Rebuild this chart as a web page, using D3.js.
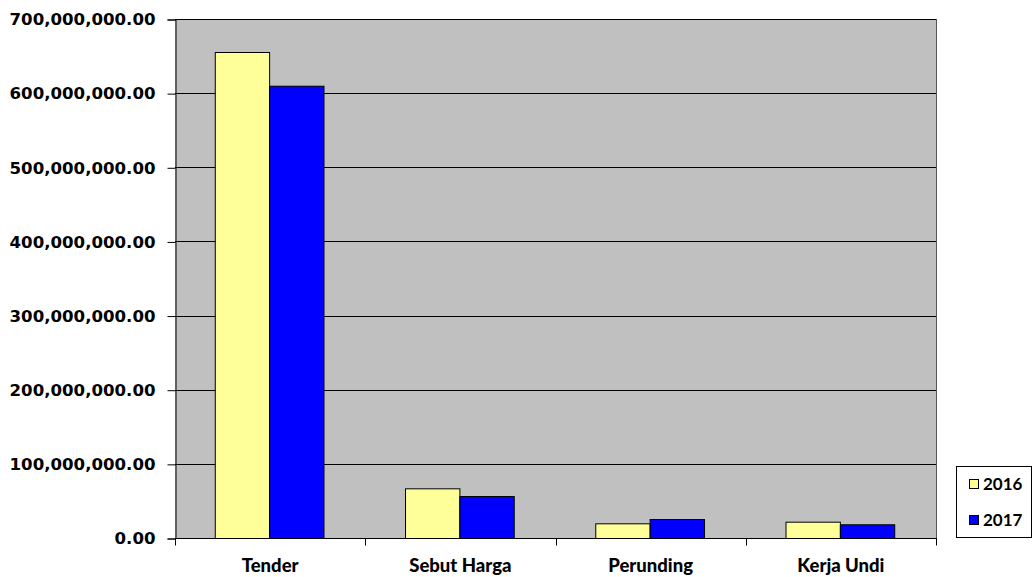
<!DOCTYPE html>
<html>
<head>
<meta charset="utf-8">
<script src="https://cdn.jsdelivr.net/npm/d3@7"></script>
<style>
  html, body { margin: 0; padding: 0; background: #ffffff; }
  svg { display: block; }
</style>
</head>
<body>
<svg id="chart" width="1033" height="577"></svg>
<script>
// Procurement value by method, 2016 vs 2017
const categories = ["Tender", "Sebut Harga", "Perunding", "Kerja Undi"];
const years = ["2016", "2017"];
const values2016 = [655500000, 67000000, 19800000, 22000000];
const values2017 = [610000000, 56600000, 25600000, 18500000];
const yTicks = [0, 100000000, 200000000, 300000000, 400000000, 500000000, 600000000, 700000000];
const seriesColors = ["#ffff99", "#0000ff"];

const svg = d3.select("#chart");
const plot = { left: 175, right: 936, top: 19, bottom: 538 };

const x0 = d3.scaleBand().domain(categories).range([plot.left, plot.right]).padding(0);
// Two bars per group, gap of 1.5 bar widths between groups
const barW = x0.bandwidth() / 3.5;
const x1 = d3.scaleBand().domain(years).range([0, barW * 2]).padding(0);
const y = d3.scaleLinear().domain([0, 700000000]).range([plot.bottom, plot.top]);

// Plot area background
svg.append("rect")
  .attr("x", plot.left).attr("y", plot.top)
  .attr("width", plot.right - plot.left).attr("height", plot.bottom - plot.top)
  .attr("fill", "#c0c0c0");

// Horizontal gridlines
svg.append("g").selectAll("line").data(yTicks.filter(d => d > 0)).join("line")
  .attr("x1", plot.left).attr("x2", plot.right)
  .attr("y1", d => Math.round(y(d)) + 0.5).attr("y2", d => Math.round(y(d)) + 0.5)
  .attr("stroke", "#000").attr("stroke-width", 1);

// Right border of plot area
svg.append("line")
  .attr("x1", plot.right + 0.5).attr("x2", plot.right + 0.5)
  .attr("y1", plot.top).attr("y2", plot.bottom)
  .attr("stroke", "#555").attr("stroke-width", 1);

// Bars
const rows = categories.map((c, i) => ({ cat: c, vals: [values2016[i], values2017[i]] }));
const groups = svg.append("g").selectAll("g").data(rows).join("g")
  .attr("transform", d => `translate(${x0(d.cat) + (x0.bandwidth() - barW * 2) / 2 - 1},0)`);
groups.selectAll("rect").data(d => d.vals.map((v, j) => ({ year: years[j], v, j }))).join("rect")
  .attr("x", d => x1(d.year) + 0.5)
  .attr("y", d => y(d.v) + 0.5)
  .attr("width", x1.bandwidth())
  .attr("height", d => y(0) - y(d.v))
  .attr("fill", d => seriesColors[d.j])
  .attr("stroke", "#000").attr("stroke-width", 1);

// Y axis
const fmt = d3.format(",.2f");
const yAxis = svg.append("g")
  .attr("transform", `translate(${plot.left + 0.5},0.5)`)
  .call(d3.axisLeft(y).tickValues(yTicks).tickFormat(fmt).tickSizeOuter(0).tickSize(8).tickPadding(12));
yAxis.select(".domain").attr("stroke", "#000");
yAxis.selectAll(".tick line").attr("stroke", "#000");
yAxis.selectAll("text")
  .attr("fill", "#000")
  .style("font-family", "'DejaVu Sans', sans-serif")
  .style("font-size", "16.6px")
  .style("font-weight", "bold");

// X axis with ticks between categories
const xAxisG = svg.append("g").attr("transform", `translate(0,${plot.bottom + 0.5})`);
xAxisG.append("line")
  .attr("x1", plot.left).attr("x2", plot.right + 1)
  .attr("stroke", "#000");
const boundaries = categories.map(c => x0(c)).concat([plot.right]);
xAxisG.selectAll("line.tk").data(boundaries).join("line")
  .attr("class", "tk")
  .attr("x1", d => Math.round(d) + 0.5).attr("x2", d => Math.round(d) + 0.5)
  .attr("y1", 0).attr("y2", 7)
  .attr("stroke", "#000");
xAxisG.selectAll("text").data(categories).join("text")
  .attr("x", d => x0(d) + x0.bandwidth() / 2)
  .attr("y", 33)
  .attr("text-anchor", "middle")
  .style("font-family", "Lato, 'Open Sans', sans-serif")
  .style("font-size", "18.5px")
  .style("font-weight", "900")
  .attr("fill", "#000")
  .text(d => d);

// Legend
const legend = svg.append("g");
legend.append("rect")
  .attr("x", 956.5).attr("y", 466.5).attr("width", 75).attr("height", 71)
  .attr("fill", "#fff").attr("stroke", "#000");
const items = legend.selectAll("g").data(years).join("g")
  .attr("transform", (d, i) => `translate(969,${484 + i * 36})`);
items.append("rect")
  .attr("x", 0.5).attr("y", -4.5).attr("width", 9).attr("height", 9)
  .attr("fill", (d, i) => seriesColors[i]).attr("stroke", "#000");
items.append("text")
  .attr("x", 14).attr("y", 6)
  .style("font-family", "Lato, 'Open Sans', sans-serif")
  .style("font-size", "17px")
  .style("font-weight", "bold")
  .attr("fill", "#000")
  .text(d => d);
</script>
</body>
</html>
